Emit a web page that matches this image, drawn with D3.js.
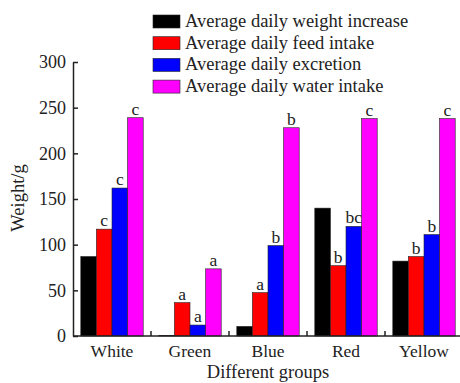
<!doctype html>
<html>
  <head>
    <script src="https://cdn.jsdelivr.net/npm/d3@7/dist/d3.min.js"></script>
    <style>
      body, html { margin: 0; background: #fff; }
      svg { display: block; }
      svg text { font-family: "Liberation Serif", "Times New Roman", serif; fill: #222; }
      .axis path, .axis line { stroke: #222; stroke-width: 1.5px; }
      .axis text { font-size: 18px; }
    </style>
  </head>
  <body>
    <svg width="460" height="383"></svg>
    <script>
      var groups = ["White", "Green", "Blue", "Red", "Yellow"];
      var series = ["Average daily weight increase", "Average daily feed intake",
        "Average daily excretion", "Average daily water intake"];
      var colors = ["#000000", "#ff0000", "#0000ff", "#ff00ff"];

      // one array per series, in group order
      var weightGain = [87, 0.6, 10.5, 140, 82];
      var feedIntake = [117, 36.5, 47.5, 77, 87];
      var excretion = [162, 12, 99, 120, 111];
      var waterIntake = [239, 73.5, 228, 238, 238];
      var values = [weightGain, feedIntake, excretion, waterIntake];

      // significance letters (none on weight gain)
      var feedLetters = ["c", "a", "a", "b", "b"];
      var excretionLetters = ["c", "a", "b", "bc", "b"];
      var waterLetters = ["c", "a", "b", "c", "c"];
      var letters = [null, feedLetters, excretionLetters, waterLetters];

      var yTicks = [0, 50, 100, 150, 200, 250, 300];

      var svg = d3.select("svg");
      var x0 = 73, x1 = 463, yTop = 62, yBot = 336;

      var x = d3.scaleBand().domain(groups).range([x0, x1]).paddingInner(0.2).paddingOuter(0.1);
      var xOuter = d3.scaleBand().domain(groups).range([x0, x1]);
      var xs = d3.scaleBand().domain(d3.range(series.length)).range([0, x.bandwidth()]);
      var y = d3.scaleLinear().domain([0, 300]).range([yBot, yTop]);

      // bars
      var rows = [];
      values.forEach(function (arr, si) {
        arr.forEach(function (v, gi) {
          rows.push({ s: si, g: groups[gi], v: v, lab: letters[si] ? letters[si][gi] : null });
        });
      });

      svg.append("g").selectAll("rect").data(rows).join("rect")
        .attr("x", d => x(d.g) + xs(d.s))
        .attr("y", d => y(d.v))
        .attr("width", xs.bandwidth())
        .attr("height", d => y(0) - y(d.v))
        .attr("fill", d => colors[d.s])
        .attr("stroke", "#222")
        .attr("stroke-width", 0.6);

      svg.append("g").selectAll("text").data(rows.filter(d => d.lab)).join("text")
        .attr("x", d => x(d.g) + xs(d.s) + xs.bandwidth() / 2)
        .attr("y", d => y(d.v) - 3)
        .attr("text-anchor", "middle")
        .style("font-size", "17.5px")
        .text(d => d.lab);

      // y axis
      svg.append("g").attr("class", "axis")
        .attr("transform", "translate(" + x0 + ",0)")
        .call(d3.axisLeft(y).tickValues(yTicks).tickSizeInner(-5).tickSizeOuter(0).tickPadding(7))
        .attr("font-family", null).attr("font-size", null);

      // x axis: ticks between groups
      var gx = svg.append("g").attr("class", "axis")
        .attr("transform", "translate(0," + yBot + ")");
      gx.append("path").attr("d", "M" + x0 + ",0H" + x1);
      gx.selectAll("line").data(groups.slice(1)).join("line")
        .attr("x1", d => xOuter(d)).attr("x2", d => xOuter(d))
        .attr("y1", 0).attr("y2", -5);
      gx.selectAll("text").data(groups).join("text")
        .attr("x", d => xOuter(d) + xOuter.bandwidth() / 2)
        .attr("y", 21)
        .attr("text-anchor", "middle")
        .style("font-size", "17.5px")
        .text(d => d);

      svg.append("text")
        .attr("x", 268).attr("y", 378)
        .attr("text-anchor", "middle")
        .style("font-size", "18.5px")
        .text("Different groups");

      svg.append("text")
        .attr("transform", "translate(24,198) rotate(-90)")
        .attr("text-anchor", "middle")
        .style("font-size", "18.5px")
        .text("Weight/g");

      // legend
      var lg = svg.append("g").attr("transform", "translate(153,15)");
      var li = lg.selectAll("g").data(series).join("g")
        .attr("transform", (d, i) => "translate(0," + (i * 21.7) + ")");
      li.append("rect").attr("width", 27).attr("height", 13)
        .attr("fill", (d, i) => colors[i]).attr("stroke", "#222").attr("stroke-width", 0.6);
      li.append("text").attr("x", 32).attr("y", 12)
        .style("font-size", "18.5px")
        .text(d => d);
    </script>
  </body>
</html>
